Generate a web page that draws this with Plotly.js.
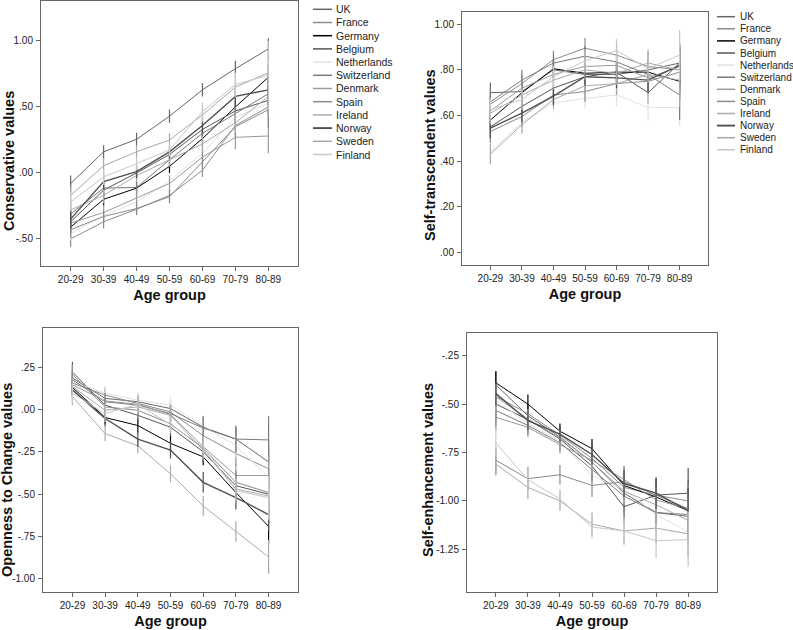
<!DOCTYPE html>
<html><head><meta charset="utf-8">
<script src="https://cdn.plot.ly/plotly-3.0.1.min.js"></script>
<style>html,body{margin:0;padding:0;background:#fff}#chart{width:793px;height:630px}</style>
</head><body><div id="chart"></div>
<script>
// ---------- data ----------
const ageGroups = ['20-29','30-39','40-49','50-59','60-69','70-79','80-89'];
const countries = ['UK','France','Germany','Belgium','Netherlands','Switzerland','Denmark','Spain','Ireland','Norway','Sweden','Finland'];

const conservativeTickVals = [-0.5, 0, 0.5, 1];
const conservativeTickText = ['-.50', '.00', '.50', '1.00'];
const transcendTickVals = [0, 0.2, 0.4, 0.6, 0.8, 1];
const transcendTickText = ['.00', '.20', '.40', '.60', '.80', '1.00'];
const opennessTickVals = [-1, -0.75, -0.5, -0.25, 0, 0.25];
const opennessTickText = ['-1.00', '-.75', '-.50', '-.25', '.00', '.25'];
const enhanceTickVals = [-1.25, -1, -0.75, -0.5, -0.25];
const enhanceTickText = ['-1.25', '-1.00', '-.75', '-.50', '-.25'];

// rows follow the order of `countries`
const conservativeValues = [
  [-0.08, 0.16, 0.255, 0.43, 0.63, 0.79, 0.94],
  [-0.50, -0.37, -0.275, -0.17, 0.02, 0.36, 0.50],
  [-0.41, -0.20, -0.115, 0.05, 0.26, 0.50, 0.725],
  [-0.37, -0.13, 0.00, 0.14, 0.33, 0.47, 0.55],
  [-0.46, -0.32, -0.22, -0.06, 0.15, 0.42, 0.53],
  [-0.31, -0.115, -0.11, 0.10, 0.30, 0.45, 0.60],
  [-0.38, -0.30, -0.19, -0.08, 0.12, 0.27, 0.28],
  [-0.43, -0.33, -0.27, -0.18, 0.085, 0.35, 0.48],
  [-0.28, -0.17, -0.02, 0.10, 0.22, 0.38, 0.58],
  [-0.35, -0.065, 0.01, 0.16, 0.36, 0.58, 0.63],
  [-0.17, 0.055, 0.16, 0.25, 0.44, 0.65, 0.76],
  [-0.22, -0.03, 0.07, 0.175, 0.465, 0.67, 0.74]
];
const conservativeErrors = [
  [0.06, 0.05, 0.05, 0.05, 0.05, 0.06, 0.08],
  [0.06, 0.05, 0.04, 0.04, 0.05, 0.07, 0.10],
  [0.05, 0.05, 0.05, 0.05, 0.06, 0.07, 0.10],
  [0.07, 0.06, 0.05, 0.05, 0.06, 0.08, 0.12],
  [0.05, 0.05, 0.04, 0.05, 0.06, 0.08, 0.12],
  [0.07, 0.06, 0.05, 0.05, 0.06, 0.08, 0.15],
  [0.07, 0.06, 0.06, 0.06, 0.07, 0.09, 0.13],
  [0.06, 0.05, 0.05, 0.05, 0.06, 0.08, 0.14],
  [0.07, 0.06, 0.05, 0.05, 0.06, 0.08, 0.15],
  [0.07, 0.06, 0.05, 0.05, 0.06, 0.08, 0.12],
  [0.07, 0.06, 0.05, 0.05, 0.06, 0.08, 0.12],
  [0.07, 0.06, 0.05, 0.05, 0.07, 0.09, 0.26]
];

const transcendValues = [
  [0.70, 0.705, 0.80, 0.78, 0.78, 0.80, 0.83],
  [0.65, 0.74, 0.845, 0.895, 0.865, 0.815, 0.80],
  [0.58, 0.70, 0.805, 0.785, 0.79, 0.79, 0.75],
  [0.55, 0.64, 0.72, 0.77, 0.79, 0.70, 0.83],
  [0.44, 0.57, 0.655, 0.675, 0.69, 0.635, 0.635],
  [0.66, 0.755, 0.83, 0.86, 0.835, 0.78, 0.69],
  [0.62, 0.72, 0.78, 0.815, 0.82, 0.765, 0.815],
  [0.53, 0.595, 0.69, 0.705, 0.74, 0.75, 0.79],
  [0.43, 0.56, 0.67, 0.73, 0.74, 0.78, 0.755],
  [0.545, 0.61, 0.685, 0.77, 0.765, 0.755, 0.82],
  [0.61, 0.69, 0.755, 0.80, 0.785, 0.83, 0.80],
  [0.625, 0.67, 0.77, 0.84, 0.885, 0.805, 0.865]
];
const transcendErrors = [
  [0.045, 0.04, 0.04, 0.04, 0.04, 0.05, 0.07],
  [0.04, 0.04, 0.04, 0.045, 0.05, 0.06, 0.09],
  [0.045, 0.04, 0.04, 0.04, 0.045, 0.05, 0.08],
  [0.05, 0.04, 0.04, 0.04, 0.05, 0.05, 0.09],
  [0.05, 0.045, 0.04, 0.045, 0.05, 0.06, 0.08],
  [0.05, 0.045, 0.04, 0.045, 0.05, 0.06, 0.11],
  [0.05, 0.04, 0.04, 0.04, 0.05, 0.06, 0.08],
  [0.05, 0.045, 0.04, 0.045, 0.05, 0.05, 0.09],
  [0.045, 0.04, 0.04, 0.04, 0.05, 0.05, 0.12],
  [0.045, 0.04, 0.04, 0.04, 0.045, 0.05, 0.09],
  [0.05, 0.04, 0.04, 0.045, 0.05, 0.06, 0.08],
  [0.05, 0.045, 0.045, 0.05, 0.05, 0.06, 0.11]
];

const opennessValues = [
  [0.185, 0.065, 0.045, 0.005, -0.105, -0.175, -0.31],
  [0.155, 0.085, 0.035, -0.015, -0.155, -0.26, -0.35],
  [0.13, -0.048, -0.095, -0.20, -0.28, -0.49, -0.69],
  [0.22, 0.025, -0.035, -0.105, -0.25, -0.45, -0.50],
  [0.165, 0.095, 0.055, 0.025, -0.095, -0.215, -0.40],
  [0.175, 0.045, 0.025, -0.025, -0.11, -0.175, -0.18],
  [0.145, 0.05, 0.03, -0.03, -0.22, -0.39, -0.39],
  [0.205, 0.015, -0.005, -0.085, -0.23, -0.43, -0.49],
  [0.075, -0.143, -0.215, -0.38, -0.57, -0.72, -0.87],
  [0.115, -0.054, -0.175, -0.24, -0.43, -0.52, -0.62],
  [0.135, -0.005, 0.015, -0.035, -0.24, -0.47, -0.51],
  [0.095, -0.025, 0.03, -0.09, -0.22, -0.48, -0.52]
];
const opennessErrors = [
  [0.05, 0.045, 0.045, 0.05, 0.06, 0.07, 0.13],
  [0.05, 0.045, 0.045, 0.05, 0.06, 0.07, 0.12],
  [0.045, 0.04, 0.04, 0.045, 0.05, 0.06, 0.10],
  [0.06, 0.05, 0.045, 0.05, 0.06, 0.07, 0.11],
  [0.05, 0.045, 0.045, 0.05, 0.06, 0.07, 0.12],
  [0.06, 0.05, 0.05, 0.05, 0.07, 0.08, 0.14],
  [0.05, 0.045, 0.045, 0.05, 0.06, 0.07, 0.12],
  [0.06, 0.05, 0.05, 0.05, 0.06, 0.07, 0.14],
  [0.05, 0.045, 0.045, 0.05, 0.06, 0.06, 0.10],
  [0.05, 0.045, 0.045, 0.05, 0.06, 0.07, 0.10],
  [0.05, 0.045, 0.045, 0.05, 0.06, 0.07, 0.12],
  [0.06, 0.05, 0.05, 0.05, 0.06, 0.07, 0.13]
];

const enhanceValues = [
  [-0.40, -0.56, -0.67, -0.80, -0.96, -1.06, -1.08],
  [-0.46, -0.55, -0.66, -0.78, -0.93, -0.97, -1.00],
  [-0.39, -0.50, -0.64, -0.73, -0.92, -0.98, -1.05],
  [-0.50, -0.58, -0.68, -0.82, -1.03, -0.97, -0.96],
  [-0.48, -0.60, -0.69, -0.87, -0.94, -1.07, -1.16],
  [-0.533, -0.61, -0.70, -0.84, -0.975, -1.06, -1.07],
  [-0.568, -0.62, -0.71, -0.79, -0.89, -0.995, -1.04],
  [-0.79, -0.885, -0.865, -0.92, -0.90, -0.97, -1.04],
  [-0.464, -0.576, -0.675, -0.80, -0.95, -1.02, -1.10],
  [-0.446, -0.585, -0.655, -0.76, -0.91, -0.96, -1.05],
  [-0.81, -0.93, -1.00, -1.12, -1.155, -1.14, -1.17],
  [-0.70, -0.89, -0.99, -1.135, -1.155, -1.205, -1.20]
];
const enhanceErrors = [
  [0.07, 0.05, 0.04, 0.05, 0.07, 0.08, 0.12],
  [0.07, 0.05, 0.04, 0.05, 0.07, 0.08, 0.11],
  [0.06, 0.05, 0.04, 0.05, 0.07, 0.08, 0.12],
  [0.08, 0.05, 0.045, 0.05, 0.08, 0.09, 0.13],
  [0.08, 0.06, 0.045, 0.06, 0.07, 0.09, 0.14],
  [0.08, 0.05, 0.045, 0.06, 0.08, 0.09, 0.13],
  [0.07, 0.05, 0.045, 0.06, 0.07, 0.09, 0.12],
  [0.07, 0.06, 0.05, 0.06, 0.08, 0.09, 0.12],
  [0.07, 0.05, 0.045, 0.06, 0.07, 0.09, 0.13],
  [0.06, 0.05, 0.04, 0.05, 0.07, 0.08, 0.12],
  [0.06, 0.06, 0.05, 0.06, 0.07, 0.08, 0.12],
  [0.07, 0.06, 0.05, 0.06, 0.07, 0.09, 0.14]
];

// ---------- styles ----------
const countryColors = ['#666666','#8c8c8c','#000000','#555555','#e2e2e2','#7a7a7a','#9a9a9a','#8a8a8a','#aaaaaa','#505050','#a8a8a8','#c8c8c8'];
const countryWidths = [1,1,1,1,1,1,1,1,1,1.4,1,1];
const FONT = 'Liberation Sans, Arial, sans-serif';
const W = 793, H = 630;
const px = v => v / W;
const py = v => 1 - v / H;

const panels = [
  {values: conservativeValues, errors: conservativeErrors, yTitle: 'Conservative values',
   tv: conservativeTickVals, tt: conservativeTickText,
   xPix: [41, 298], yPix: [1, 266], yRange: [-0.705, 1.303], yTitlePos: [9, 161],
   legend: {x0: 313, x1: 332, tx: 334, y0: 9.3, dy: 13.2, size: 10.5}},
  {values: transcendValues, errors: transcendErrors, yTitle: 'Self-transcendent values',
   tv: transcendTickVals, tt: transcendTickText,
   xPix: [462, 708], yPix: [12, 265], yRange: [-0.056, 1.054], yTitlePos: [430, 155],
   legend: {x0: 717, x1: 735, tx: 738, y0: 16.7, dy: 12.1, size: 10}},
  {values: opennessValues, errors: opennessErrors, yTitle: 'Openness to Change values',
   tv: opennessTickVals, tt: opennessTickText,
   xPix: [43, 298], yPix: [328, 592], yRange: [-1.077, 0.48], yTitlePos: [7, 480]},
  {values: enhanceValues, errors: enhanceErrors, yTitle: 'Self-enhancement values',
   tv: enhanceTickVals, tt: enhanceTickText,
   xPix: [467, 717], yPix: [333, 592], yRange: [-1.47, -0.133], yTitlePos: [428, 470]}
];

const traces = [];
const layout = {
  width: W, height: H, margin: {l: 0, r: 0, t: 0, b: 0},
  paper_bgcolor: '#fff', plot_bgcolor: '#fff', showlegend: false,
  font: {family: FONT, color: '#222'},
  annotations: [], shapes: []
};

panels.forEach((p, k) => {
  const sfx = k === 0 ? '' : String(k + 1);
  p.values.forEach((vals, i) => {
    traces.push({
      type: 'scatter', mode: 'lines', name: countries[i],
      x: ageGroups, y: vals,
      xaxis: 'x' + sfx, yaxis: 'y' + sfx,
      line: {color: countryColors[i], width: countryWidths[i]},
      error_y: {type: 'data', array: p.errors[i], visible: true, color: countryColors[i], thickness: 1.2, width: 0},
      hoverinfo: 'skip'
    });
  });
  const axCommon = {
    showline: true, mirror: true, linecolor: '#666', linewidth: 1,
    ticks: 'outside', ticklen: 4, tickcolor: '#666', tickwidth: 1,
    showgrid: false, zeroline: false, fixedrange: true,
    tickfont: {family: FONT, size: 10, color: '#222'}
  };
  layout['xaxis' + sfx] = Object.assign({}, axCommon, {
    domain: [px(p.xPix[0]), px(p.xPix[1])], anchor: 'y' + sfx,
    type: 'category', range: [-0.9, 6.9],
    title: {text: 'Age group', font: {family: FONT, size: 14.5, weight: 'bold', color: '#111'}, standoff: 5}
  });
  layout['yaxis' + sfx] = Object.assign({}, axCommon, {
    domain: [py(p.yPix[1]), py(p.yPix[0])], anchor: 'x' + sfx,
    range: p.yRange, tickvals: p.tv, ticktext: p.tt, ticklabelstandoff: 1
  });
  layout.annotations.push({
    xref: 'paper', yref: 'paper', x: px(p.yTitlePos[0]), y: py(p.yTitlePos[1]),
    text: p.yTitle, textangle: -90, showarrow: false, xanchor: 'center', yanchor: 'middle',
    font: {family: FONT, size: 14.5, weight: 'bold', color: '#111'}
  });
  if (p.legend) {
    const L = p.legend;
    countries.forEach((c, i) => {
      const yy = L.y0 + L.dy * i;
      layout.shapes.push({
        type: 'line', xref: 'paper', yref: 'paper',
        x0: px(L.x0), x1: px(L.x1), y0: py(yy), y1: py(yy),
        line: {color: countryColors[i], width: countryWidths[i] + 0.5}
      });
      layout.annotations.push({
        xref: 'paper', yref: 'paper', x: px(L.tx), y: py(yy),
        text: c, showarrow: false, xanchor: 'left', yanchor: 'middle',
        font: {family: FONT, size: L.size, color: '#222'}
      });
    });
  }
});

Plotly.newPlot('chart', traces, layout, {staticPlot: true, displayModeBar: false});
</script>
</body></html>
